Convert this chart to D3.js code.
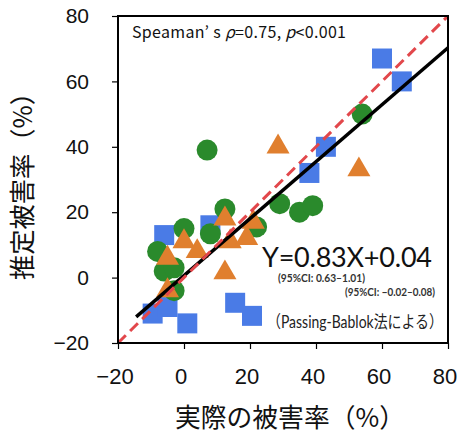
<!DOCTYPE html>
<html>
<head>
<meta charset="utf-8">
<script src="https://cdn.jsdelivr.net/npm/d3@7"></script>
<style>
    body { margin: 0; background: #fff; }
    svg { display: block; }
</style>
</head>
<body>
<svg id="chart" width="457" height="434"></svg>
<script>
var xTicks = [-20, 0, 20, 40, 60, 80];
var yTicks = [-20, 0, 20, 40, 60, 80];
var squares = [[60, 67], [66, 60], [43, 40], [38, 32], [-6, 13], [8, 16], [15.5, -7.7], [20.6, -11.7], [1, -14], [-9.5, -11], [-5, -9]];
var circles = [[54, 50], [7, 39], [12.4, 21], [29, 22.6], [35, 20], [39, 22], [22, 15.5], [0, 15], [8, 13.4], [-8, 8], [-6, 2], [-3, 3], [-3, -4]];
var triangles = [[28.5, 40], [53, 33], [12.4, 18], [21, 17], [0, 11], [4, 8], [-5, 6], [14, 11], [19, 12], [12.4, 1.5], [-5, -4]];
var identityLine = [[-20, -20], [80, 80]];
var fitLine = [[-14.5, -12], [80, 70.3]];

var margin = {left: 118, top: 16, right: 9, bottom: 91};
var width = 457 - margin.left - margin.right;
var height = 434 - margin.top - margin.bottom;

var svg = d3.select('#chart');
var g = svg.append('g')
    .attr('transform', 'translate(' + margin.left + ',' + margin.top + ')');

var x = d3.scaleLinear().domain([-20, 80]).range([0, width]);
var y = d3.scaleLinear().domain([-20, 80]).range([height, 0]);

// axes
var xAxis = g.append('g')
    .attr('transform', 'translate(0,' + height + ')')
    .call(d3.axisBottom(x).tickValues(xTicks).tickSize(6).tickPadding(19));
var yAxis = g.append('g')
    .call(d3.axisLeft(y).tickValues(yTicks).tickSize(6).tickPadding(23));

[xAxis, yAxis].forEach(function(a){
    a.select('.domain').remove();
    a.selectAll('line').style('stroke', '#000').style('stroke-width', 1.2);
    a.selectAll('text')
        .style('font-family', '"Liberation Sans", Arial, sans-serif')
        .style('fill', '#111');
});
xAxis.selectAll('text').style('font-size', '22px').attr('dx', -3.5);
yAxis.selectAll('text').style('font-size', '21px');

// markers: squares, then circles, then triangles on top
g.selectAll('path.sq')
    .data(squares)
    .enter().append('path')
    .attr('class', 'sq')
    .attr('d', d3.symbol().type(d3.symbolSquare).size(400))
    .attr('transform', function(d){ return 'translate(' + x(d[0]) + ',' + y(d[1]) + ')'; })
    .style('fill', '#4a7be6');

g.selectAll('path.ci')
    .data(circles)
    .enter().append('path')
    .attr('class', 'ci')
    .attr('d', d3.symbol().type(d3.symbolCircle).size(346))
    .attr('transform', function(d){ return 'translate(' + x(d[0]) + ',' + y(d[1]) + ')'; })
    .style('fill', '#2a8a2c');

g.selectAll('path.tr')
    .data(triangles)
    .enter().append('path')
    .attr('class', 'tr')
    .attr('d', d3.symbol().type(d3.symbolTriangle).size(230))
    .attr('transform', function(d){ return 'translate(' + x(d[0]) + ',' + y(d[1]) + ')'; })
    .style('fill', '#e07f2e');

// lines
var line = d3.line()
    .x(function(d){ return x(d[0]); })
    .y(function(d){ return y(d[1]); });

g.append('path')
    .datum(fitLine)
    .attr('d', line)
    .style('fill', 'none')
    .style('stroke', '#000')
    .style('stroke-width', 3.5);

g.append('path')
    .datum(identityLine)
    .attr('d', line)
    .style('fill', 'none')
    .style('stroke', '#e2474b')
    .style('stroke-width', 3)
    .style('stroke-dasharray', '11 6');

// frame
g.append('rect')
    .attr('width', width)
    .attr('height', height)
    .style('fill', 'none')
    .style('stroke', '#000')
    .style('stroke-width', 2);

// annotations
var jp = '"Noto Sans CJK JP", sans-serif';
var stat = g.append('text')
    .attr('x', 14)
    .attr('y', 22)
    .attr('textLength', 214)
    .style('font-family', jp)
    .style('font-size', '16px')
    .style('fill', '#111');
stat.append('tspan').text('Speaman\u2019 s ');
stat.append('tspan').style('font-style', 'italic').text('\u03c1');
stat.append('tspan').text('=0.75, ');
stat.append('tspan').style('font-style', 'italic').text('p');
stat.append('tspan').text('<0.001');

g.append('text')
    .attr('x', 144)
    .attr('y', 251)
    .attr('textLength', 170)
    .style('font-family', 'Lato, sans-serif')
    .style('font-size', '27px')
    .style('fill', '#111')
    .text('Y=0.83X+0.04');

g.append('text')
    .attr('x', 160)
    .attr('y', 266)
    .attr('textLength', 87)
    .attr('lengthAdjust', 'spacingAndGlyphs')
    .style('font-family', 'Lato, sans-serif')
    .style('font-size', '10.5px')
    .style('font-weight', 'bold')
    .style('fill', '#333')
    .text('(95%CI: 0.63\u20131.01)');

g.append('text')
    .attr('x', 227)
    .attr('y', 280)
    .attr('textLength', 90)
    .attr('lengthAdjust', 'spacingAndGlyphs')
    .style('font-family', 'Lato, sans-serif')
    .style('font-size', '10.5px')
    .style('font-weight', 'bold')
    .style('fill', '#333')
    .text('(95%CI: \u22120.02\u20130.08)');

g.append('text')
    .attr('x', 149)
    .attr('y', 312)
    .attr('textLength', 176)
    .attr('lengthAdjust', 'spacingAndGlyphs')
    .style('font-family', 'Lato, "Noto Sans CJK JP", sans-serif')
    .style('font-size', '17px')
    .style('fill', '#222')
    .text('\uff08Passing-Bablok\u6cd5\u306b\u3088\u308b\uff09');

// axis titles
svg.append('text')
    .attr('x', 290)
    .attr('y', 427)
    .attr('text-anchor', 'middle')
    .attr('textLength', 230)
    .attr('lengthAdjust', 'spacingAndGlyphs')
    .style('font-family', jp)
    .style('font-size', '26px')
    .style('fill', '#111')
    .text('\u5b9f\u969b\u306e\u88ab\u5bb3\u7387\uff08%\uff09');

svg.append('text')
    .attr('transform', 'translate(32,180) rotate(-90)')
    .attr('text-anchor', 'middle')
    .attr('textLength', 200)
    .attr('lengthAdjust', 'spacingAndGlyphs')
    .style('font-family', jp)
    .style('font-size', '26px')
    .style('fill', '#111')
    .text('\u63a8\u5b9a\u88ab\u5bb3\u7387\uff08%\uff09');
</script>
</body>
</html>
